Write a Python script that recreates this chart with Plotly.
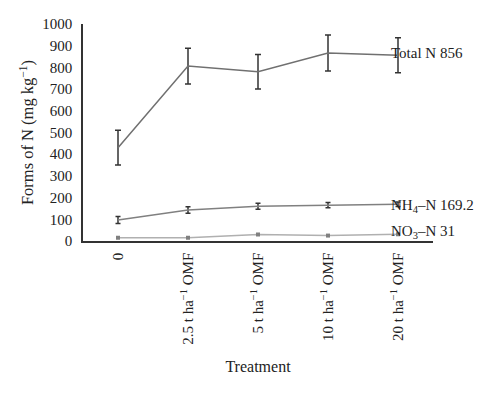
import plotly.graph_objects as go

categories = ["0", "2.5 t ha<sup>−1</sup> OMF", "5 t ha<sup>−1</sup> OMF",
              "10 t ha<sup>−1</sup> OMF", "20 t ha<sup>−1</sup> OMF"]
total_n = [430, 806, 780, 866, 856]
total_n_err = [80, 82, 80, 83, 81]
nh4_n = [97, 143, 160, 165, 169.2]
nh4_err = [16, 15, 14, 12, 10]
no3_n = [15, 15, 30, 25, 31]
no3_err = [3, 3, 4, 3, 3]
yticks = [0, 100, 200, 300, 400, 500, 600, 700, 800, 900, 1000]

FONT = "Liberation Serif"
x = list(range(len(categories)))

fig = go.Figure()
fig.add_trace(go.Scatter(
    x=x, y=total_n, mode="lines",
    line=dict(color="#707070", width=1.5),
    error_y=dict(type="data", array=total_n_err, color="#333333", thickness=1.5, width=3),
))
fig.add_trace(go.Scatter(
    x=x, y=nh4_n, mode="lines",
    line=dict(color="#808080", width=1.5),
    error_y=dict(type="data", array=nh4_err, color="#333333", thickness=1.5, width=2.5),
))
fig.add_trace(go.Scatter(
    x=x, y=no3_n, mode="lines+markers",
    line=dict(color="#b0b0b0", width=1.5),
    marker=dict(symbol="square", size=4, color="#808080"),
    error_y=dict(type="data", array=no3_err, color="#808080", thickness=1, width=1.5),
))

labels = ["Total N 856", "NH<sub>4</sub>–N 169.2", "NO<sub>3</sub>–N 31"]
lab_y = [total_n[-1], nh4_n[-1], no3_n[-1]]
shifts = [2, -2, 2]
for t, yy, s in zip(labels, lab_y, shifts):
    fig.add_annotation(x=x[-1], y=yy, text=t, showarrow=False, xanchor="left",
                       xshift=-9, yshift=s, font=dict(family=FONT, size=15, color="#222"))

fig.update_layout(
    width=500, height=393,
    margin=dict(l=83, r=67, t=24, b=152),
    paper_bgcolor="white", plot_bgcolor="white",
    showlegend=False,
    font=dict(family=FONT, size=15, color="#222"),
)
fig.update_xaxes(
    tickmode="array", tickvals=x, ticktext=categories, tickangle=-90,
    range=[-0.5, 4.5], showgrid=False, zeroline=False, automargin=False,
    showline=True, linecolor="#333", linewidth=1.5, ticks="", ticklabelstandoff=4,
    tickfont=dict(family=FONT, size=15),
    title=dict(text="Treatment", font=dict(family=FONT, size=16), standoff=17),
)
fig.update_yaxes(
    tickmode="array", tickvals=yticks, range=[0, 1000], automargin=False,
    showgrid=False, zeroline=False, showline=True, linecolor="#333", linewidth=1.5,
    ticks="", ticklabelstandoff=6, tickfont=dict(family=FONT, size=15),
    title=dict(text="Forms of N (mg kg<sup>−1</sup>)", font=dict(family=FONT, size=16.5), standoff=4),
)

fig.write_html("out.html", config={"displayModeBar": False},
               post_script="document.body.style.margin='0';")
